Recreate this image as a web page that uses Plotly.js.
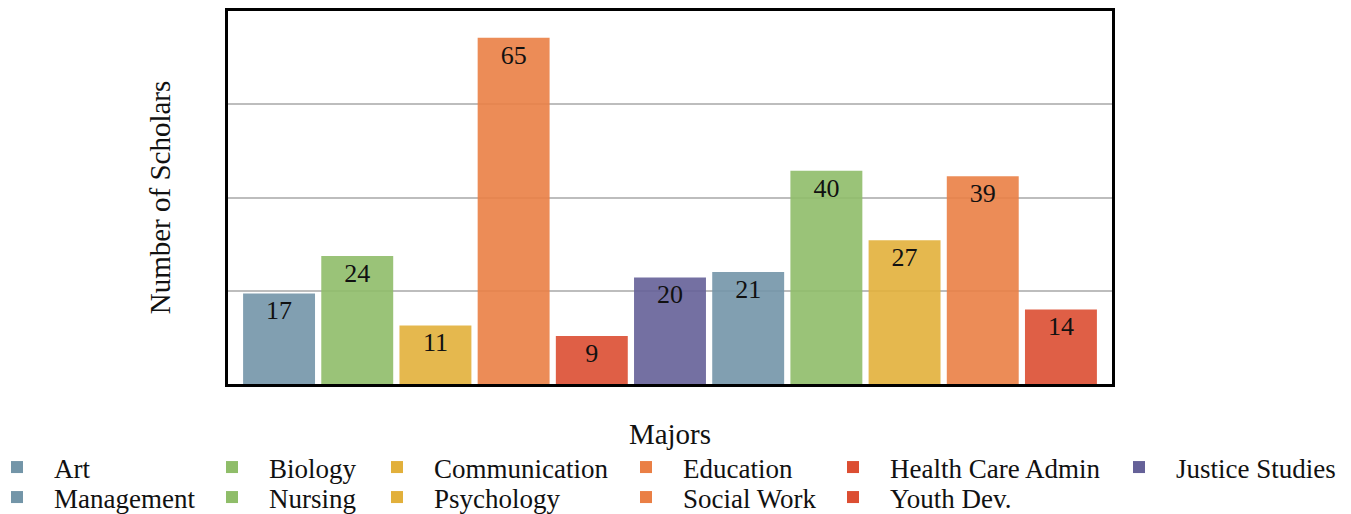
<!DOCTYPE html>
<html>
<head>
<meta charset="utf-8">
<script src="https://cdn.plot.ly/plotly-3.0.1.min.js"></script>
<style>html,body{margin:0;padding:0;background:#fff;}#chart{width:1351px;height:514px;}</style>
</head>
<body>
<div id="chart"></div>
<script>
const majors = ["Art","Biology","Communication","Education","Health Care Admin","Justice Studies","Management","Nursing","Psychology","Social Work","Youth Dev."];
const scholars = [17,24,11,65,9,20,21,40,27,39,14];
const colors = ["#7395a8","#8fbd69","#e2b03b","#ea7f45","#dc4e32","#656198","#7395a8","#8fbd69","#e2b03b","#ea7f45","#dc4e32"];

const FONT = "Liberation Serif, Times New Roman, serif";
const traces = majors.map((m, i) => ({
  type: "bar",
  name: m,
  x: [m],
  y: [scholars[i]],
  text: [String(scholars[i])],
  textposition: "inside",
  insidetextanchor: "end",
  textangle: 0,
  insidetextfont: {family: FONT, size: 26, color: "#111"},
  marker: {color: colors[i], opacity: 0.9},
  width: 0.92,
  legend: i === 0 ? "legend" : "legend" + (i + 1),
  hoverinfo: "x+y"
}));

// legend text start (px) per column, row top (px)
const colText = [55, 270, 435, 684, 891, 1177];
const rowTop = [443, 473];
const plotL = 228, plotW = 884, plotB = 384, plotH = 373;
const ITEMW = 64;
function legendAt(i) {
  const col = i % 6, row = Math.floor(i / 6);
  const left = colText[col] - (ITEMW + 11);
  return {
    x: (left - plotL) / plotW, xanchor: "left",
    y: (plotB - rowTop[row]) / plotH, yanchor: "top",
    orientation: "v", itemwidth: ITEMW,
    font: {family: FONT, size: 27, color: "#111"},
    bgcolor: "rgba(0,0,0,0)"
  };
}

const layout = {
  width: 1351, height: 514,
  margin: {l: 228, r: 239, t: 11, b: 130, autoexpand: false},
  paper_bgcolor: "#fff", plot_bgcolor: "#fff",
  font: {family: FONT, color: "#111"},
  showlegend: true,
  xaxis: {
    title: {text: "Majors", font: {family: FONT, size: 29, color: "#111"}, standoff: 38},
    range: [-0.653, 10.653],
    showticklabels: false, ticks: "",
    showline: true, mirror: true, linecolor: "#000", linewidth: 3,
    showgrid: false, zeroline: false, automargin: false
  },
  yaxis: {
    title: {text: "Number of Scholars", font: {family: FONT, size: 29, color: "#111"}, standoff: 46},
    range: [0, 70],
    tickvals: [17.5, 35, 52.5],
    showticklabels: false, ticks: "",
    showline: true, mirror: true, linecolor: "#000", linewidth: 3,
    showgrid: true, gridcolor: "#bdbdbd", gridwidth: 2,
    zeroline: false, automargin: false
  }
};
majors.forEach((m, i) => { layout[i === 0 ? "legend" : "legend" + (i + 1)] = legendAt(i); });

Plotly.newPlot("chart", traces, layout, {displayModeBar: false, staticPlot: true});
</script>
</body>
</html>
